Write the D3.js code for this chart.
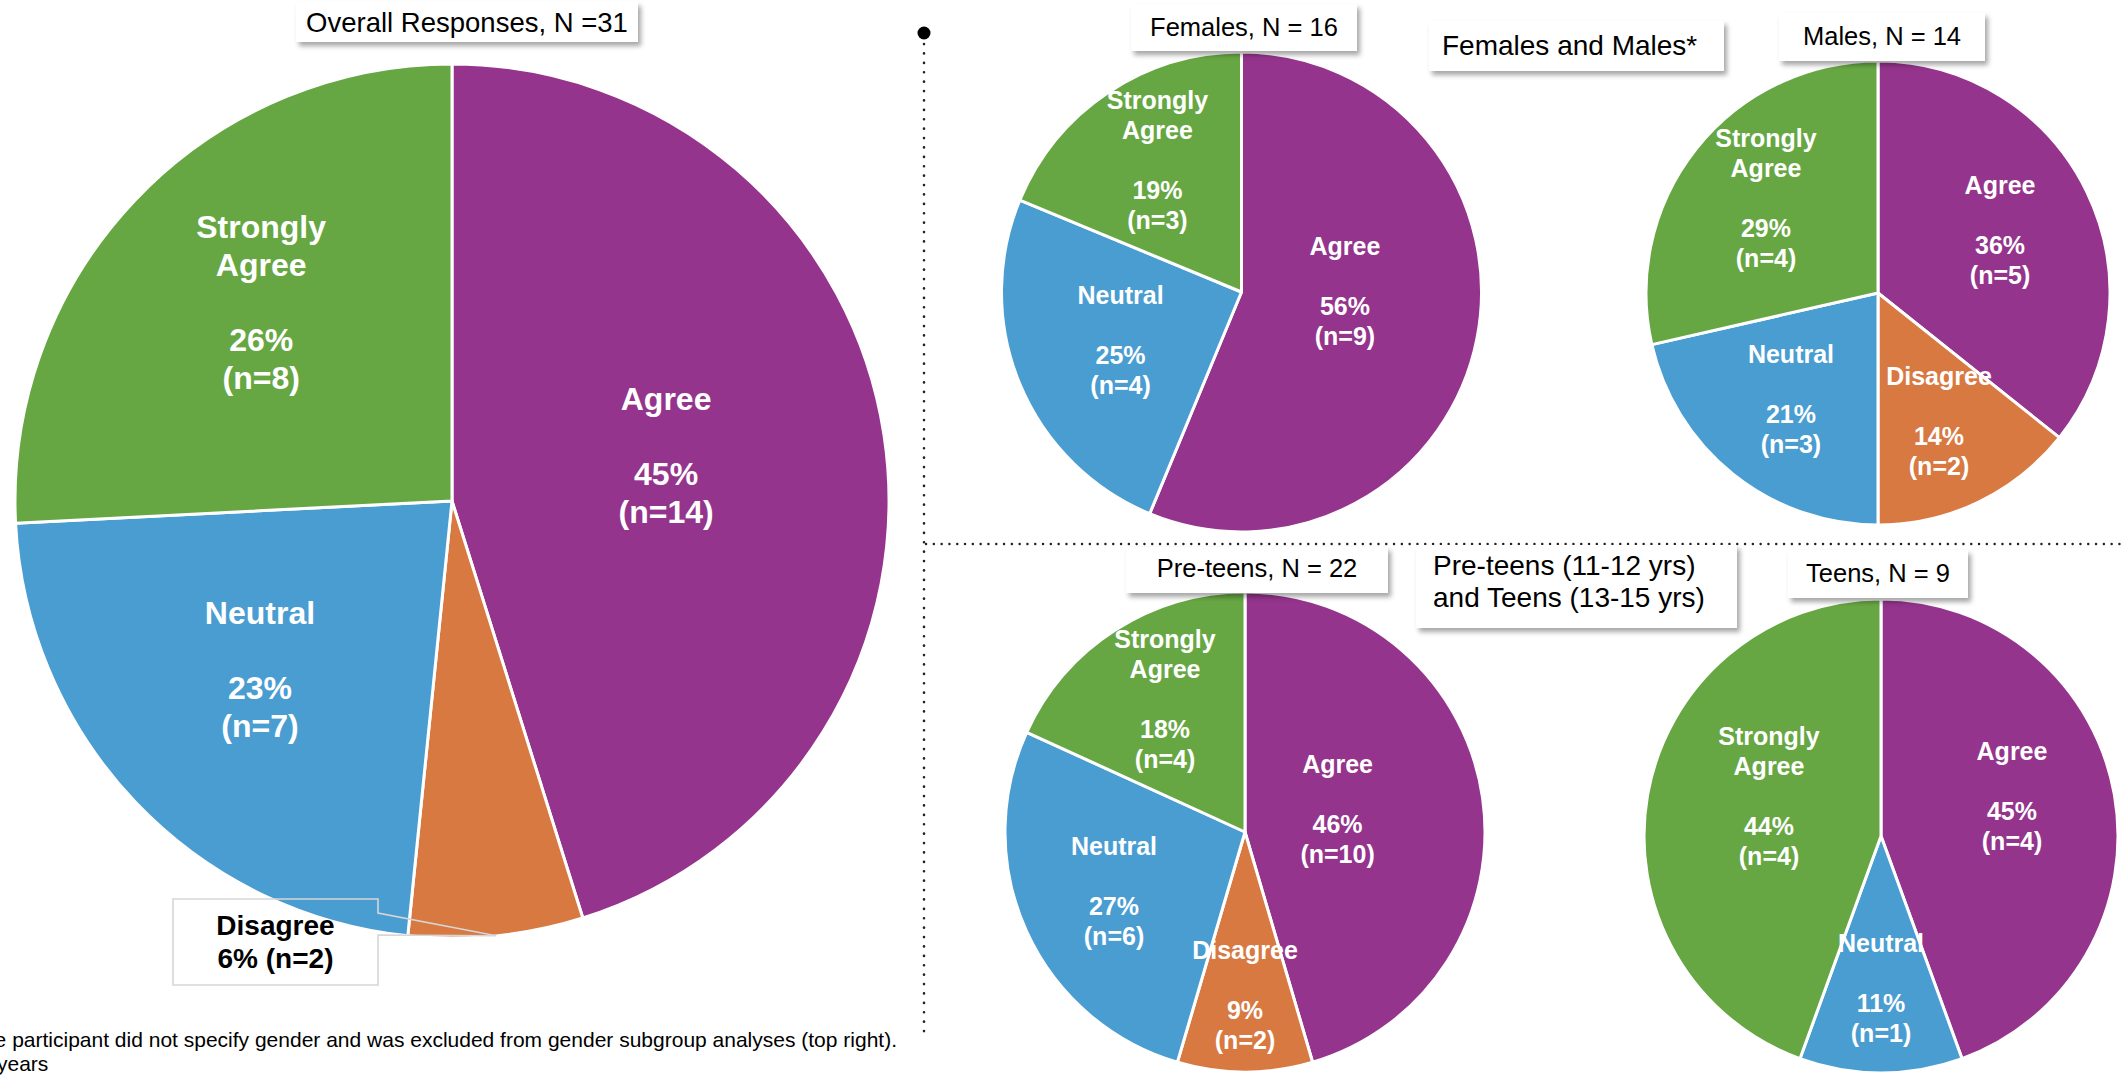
<!DOCTYPE html>
<html>
<head>
<meta charset="utf-8">
<script src="https://cdn.jsdelivr.net/npm/d3@7"></script>
<style>
    body { margin: 0; background: #fff; }
    svg { display: block; font-family: "Liberation Sans", Arial, sans-serif; }
</style>
</head>
<body>
<script>
/*
*    survey pies
*/

var width = 2126;
var height = 1077;

//Data
var categories = ["Agree", "Disagree", "Neutral", "Strongly Agree"];
var overallCounts = [14, 2, 7, 8];
var overallPct = [45, 6, 23, 26];
var femaleCounts = [9, 0, 4, 3];
var femalePct = [56, 0, 25, 19];
var maleCounts = [5, 2, 3, 4];
var malePct = [36, 14, 21, 29];
var preteenCounts = [10, 2, 6, 4];
var preteenPct = [46, 9, 27, 18];
var teenCounts = [4, 0, 1, 4];
var teenPct = [45, 0, 11, 44];
var pieTitles = ["Overall Responses, N =31", "Females, N = 16", "Males, N = 14", "Pre-teens, N = 22", "Teens, N = 9"];
var groupTitles = [["Females and Males*"], ["Pre-teens (11-12 yrs)", "and Teens (13-15 yrs)"]];
var footnotes = ["*One participant did not specify gender and was excluded from gender subgroup analyses (top right).", "years"];

//Layout (label spots as [angle in degrees clockwise from top, fraction of radius])
var panels = [
    {counts: overallCounts, pct: overallPct, cx: 452, cy: 501, r: 437, font: 32, lh: 37.7,
        labelPos: [[77.9, 0.501], null, [228.8, 0.584], [316.2, 0.631]],
        title: {x: 296, y: 2, w: 342, h: 40, font: 27.5, base: 31.5}},
    {counts: femaleCounts, pct: femalePct, cx: 1241.5, cy: 292, r: 240, font: 25, lh: 30,
        labelPos: [[89.4, 0.431], null, [248.4, 0.542], [327.5, 0.652]],
        title: {x: 1131, y: 4, w: 226, h: 47, font: 25.5, base: 36}},
    {counts: maleCounts, pct: malePct, cx: 1878, cy: 293, r: 232, font: 25, lh: 30,
        labelPos: [[62.7, 0.592], [154.6, 0.613], [219.4, 0.591], [310.4, 0.634]],
        title: {x: 1779, y: 13, w: 206, h: 48, font: 25.5, base: 45}},
    {counts: preteenCounts, pct: preteenPct, cx: 1245, cy: 832, r: 240, font: 25, lh: 30,
        labelPos: [[75.8, 0.398], [180, 0.679], [245.9, 0.598], [329.0, 0.647]],
        title: {x: 1126, y: 547, w: 262, h: 46, font: 25.5, base: 577}},
    {counts: teenCounts, pct: teenPct, cx: 1881, cy: 836, r: 237, font: 25, lh: 30,
        labelPos: [[73.0, 0.578], null, [180, 0.641], [289.7, 0.502]],
        title: {x: 1788, y: 550, w: 180, h: 48, font: 25.5, base: 582}}
];
var groupBoxes = [
    {x: 1429, y: 21, w: 295, h: 50, font: 28, tx: 1442, base: 55},
    {x: 1416, y: 545, w: 321, h: 83, font: 28, tx: 1433, base: 575}
];

//Scales
var color = d3.scaleOrdinal()
    .domain(categories)
    .range(["#94348C", "#D87942", "#4A9DD1", "#67A743"]);

var pie = d3.pie()
    .sort(null)
    .value(d => d.count);

//Canvas
var svg = d3.select("body")
    .append("svg")
        .attr("width", width)
        .attr("height", height);

var defs = svg.append("defs");
var shadow = defs.append("filter")
    .attr("id", "shadow")
    .attr("x", "-10%").attr("y", "-20%")
    .attr("width", "125%").attr("height", "160%");
shadow.append("feDropShadow")
    .attr("dx", 3)
    .attr("dy", 4)
    .attr("stdDeviation", 2.5)
    .attr("flood-color", "#000")
    .attr("flood-opacity", 0.35);

//Dividers
svg.append("line")
    .attr("x1", 924).attr("x2", 924)
    .attr("y1", 44).attr("y2", 1036)
    .attr("stroke", "#222")
    .attr("stroke-width", 2.6)
    .attr("stroke-linecap", "round")
    .attr("stroke-dasharray", "0.1,9.3");
svg.append("circle")
    .attr("cx", 924)
    .attr("cy", 33)
    .attr("r", 6.5)
    .attr("fill", "#000");
svg.append("line")
    .attr("x1", 926).attr("x2", width)
    .attr("y1", 544).attr("y2", 544)
    .attr("stroke", "#222")
    .attr("stroke-width", 2.4)
    .attr("stroke-linecap", "round")
    .attr("stroke-dasharray", "0.1,7.7");

//Pies
panels.forEach(function(p, pi) {
    var data = categories.map((c, i) => ({name: c, count: p.counts[i], pct: p.pct[i], idx: i}));
    var arcs = pie(data);
    var arc = d3.arc().innerRadius(0).outerRadius(p.r);

    var g = svg.append("g")
        .attr("transform", "translate(" + p.cx + ", " + p.cy + ")");

    g.selectAll("path")
        .data(arcs.filter(d => d.data.count > 0))
        .enter()
        .append("path")
            .attr("d", arc)
            .attr("fill", d => color(d.data.name))
            .attr("stroke", "#fff")
            .attr("stroke-width", 3)
            .attr("stroke-linejoin", "round");

    arcs.forEach(function(d) {
        var lp = p.labelPos[d.data.idx];
        if (d.data.count === 0 || lp == null) return;
        var pos = d3.pointRadial(lp[0] * Math.PI / 180, p.r * lp[1]);
        var lines = d.data.name.split(" ").concat(["", d.data.pct + "%", "(n=" + d.data.count + ")"]);
        lines.forEach(function(t, li) {
            if (t === "") return;
            g.append("text")
                .attr("x", pos[0])
                .attr("y", pos[1] + (li - (lines.length - 1) / 2) * p.lh)
                .attr("dy", "0.36em")
                .attr("text-anchor", "middle")
                .attr("fill", "#fff")
                .attr("font-weight", "bold")
                .attr("font-size", p.font)
                .text(t);
        });
    });

    // callout for the thin overall Disagree slice
    if (pi === 0) {
        var dis = arcs[1];
        var tip = d3.arc().innerRadius(p.r).outerRadius(p.r).centroid(dis);
        var bx = 173 - p.cx, by = 899 - p.cy, bw = 205, bh = 86;
        var shape = [[bx, by], [bx + bw, by], [bx + bw, by + 14], tip, [bx + bw, by + 36], [bx + bw, by + bh], [bx, by + bh]];
        g.append("path")
            .attr("d", d3.line()(shape) + "Z")
            .attr("fill", "none")
            .attr("stroke", "#d6d6d6")
            .attr("stroke-width", 1.6);
        var callLines = [dis.data.name, dis.data.pct + "% (n=" + dis.data.count + ")"];
        callLines.forEach(function(t, li) {
            g.append("text")
                .attr("x", bx + bw / 2)
                .attr("y", 935 - p.cy + li * 33)
                .attr("text-anchor", "middle")
                .attr("fill", "#000")
                .attr("font-weight", "bold")
                .attr("font-size", 28)
                .text(t);
        });
    }
});

//Titles
panels.forEach(function(p, pi) {
    var t = p.title;
    svg.append("rect")
        .attr("x", t.x).attr("y", t.y)
        .attr("width", t.w).attr("height", t.h)
        .attr("fill", "#fff")
        .attr("filter", "url(#shadow)");
    svg.append("text")
        .attr("x", t.x + t.w / 2)
        .attr("y", t.base)
        .attr("text-anchor", "middle")
        .attr("font-size", t.font)
        .attr("fill", "#000")
        .text(pieTitles[pi]);
});

groupBoxes.forEach(function(b, bi) {
    svg.append("rect")
        .attr("x", b.x).attr("y", b.y)
        .attr("width", b.w).attr("height", b.h)
        .attr("fill", "#fff")
        .attr("filter", "url(#shadow)");
    groupTitles[bi].forEach(function(line, li) {
        svg.append("text")
            .attr("x", b.tx)
            .attr("y", b.base + li * 32)
            .attr("font-size", b.font)
            .attr("fill", "#000")
            .text(line);
    });
});

//Footnotes
svg.append("text")
    .attr("x", 897)
    .attr("y", 1047)
    .attr("text-anchor", "end")
    .attr("font-size", 21)
    .attr("fill", "#000")
    .text(footnotes[0]);
svg.append("text")
    .attr("x", -3)
    .attr("y", 1071)
    .attr("font-size", 21)
    .attr("fill", "#000")
    .text(footnotes[1]);
</script>
</body>
</html>
